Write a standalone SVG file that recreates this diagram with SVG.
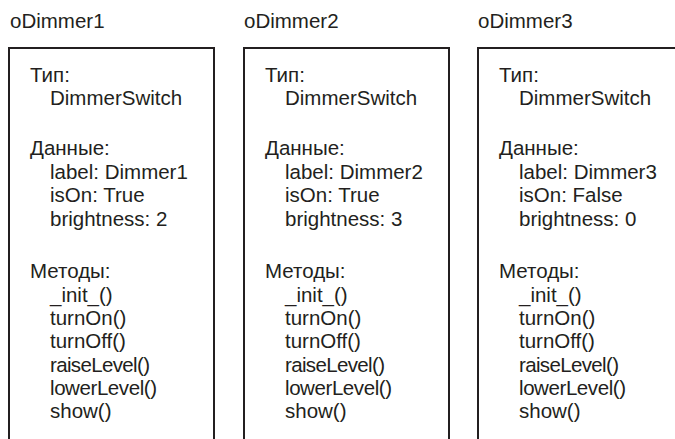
<svg xmlns="http://www.w3.org/2000/svg" width="675" height="439" viewBox="0 0 675 439">
<style>
text{font-family:"Liberation Sans",Arial,sans-serif;font-size:20.5px;fill:#231f20}
.box{fill:none;stroke:#231f20;stroke-width:2}
</style>
<rect width="675" height="439" fill="#fff"/>
<g id="oDimmer1">
<text x="10" y="28">oDimmer1</text>
<rect class="box" x="9" y="48" width="205" height="400"/>
<text x="30" y="82">Тип:</text>
<text x="50" y="105">DimmerSwitch</text>
<text x="30" y="155">Данные:</text>
<text x="50" y="179">label: Dimmer1</text>
<text x="50" y="202">isOn: True</text>
<text x="50" y="226">brightness: 2</text>
<text x="30" y="278">Методы:</text>
<text x="50" y="302">_init_()</text>
<text x="50" y="325">turnOn()</text>
<text x="50" y="348">turnOff()</text>
<text x="50" y="372" textLength="100">raiseLevel()</text>
<text x="50" y="395" textLength="107">lowerLevel()</text>
<text x="50" y="418">show()</text>
</g>
<g id="oDimmer2">
<text x="244" y="28">oDimmer2</text>
<rect class="box" x="244" y="48" width="205" height="400"/>
<text x="265" y="82">Тип:</text>
<text x="285" y="105">DimmerSwitch</text>
<text x="265" y="155">Данные:</text>
<text x="285" y="179">label: Dimmer2</text>
<text x="285" y="202">isOn: True</text>
<text x="285" y="226">brightness: 3</text>
<text x="265" y="278">Методы:</text>
<text x="285" y="302">_init_()</text>
<text x="285" y="325">turnOn()</text>
<text x="285" y="348">turnOff()</text>
<text x="285" y="372" textLength="100">raiseLevel()</text>
<text x="285" y="395" textLength="107">lowerLevel()</text>
<text x="285" y="418">show()</text>
</g>
<g id="oDimmer3">
<text x="478" y="28">oDimmer3</text>
<rect class="box" x="478" y="48" width="205" height="400"/>
<text x="499" y="82">Тип:</text>
<text x="519" y="105">DimmerSwitch</text>
<text x="499" y="155">Данные:</text>
<text x="519" y="179">label: Dimmer3</text>
<text x="519" y="202">isOn: False</text>
<text x="519" y="226">brightness: 0</text>
<text x="499" y="278">Методы:</text>
<text x="519" y="302">_init_()</text>
<text x="519" y="325">turnOn()</text>
<text x="519" y="348">turnOff()</text>
<text x="519" y="372" textLength="100">raiseLevel()</text>
<text x="519" y="395" textLength="107">lowerLevel()</text>
<text x="519" y="418">show()</text>
</g>
<g id="connectors"/>
</svg>
